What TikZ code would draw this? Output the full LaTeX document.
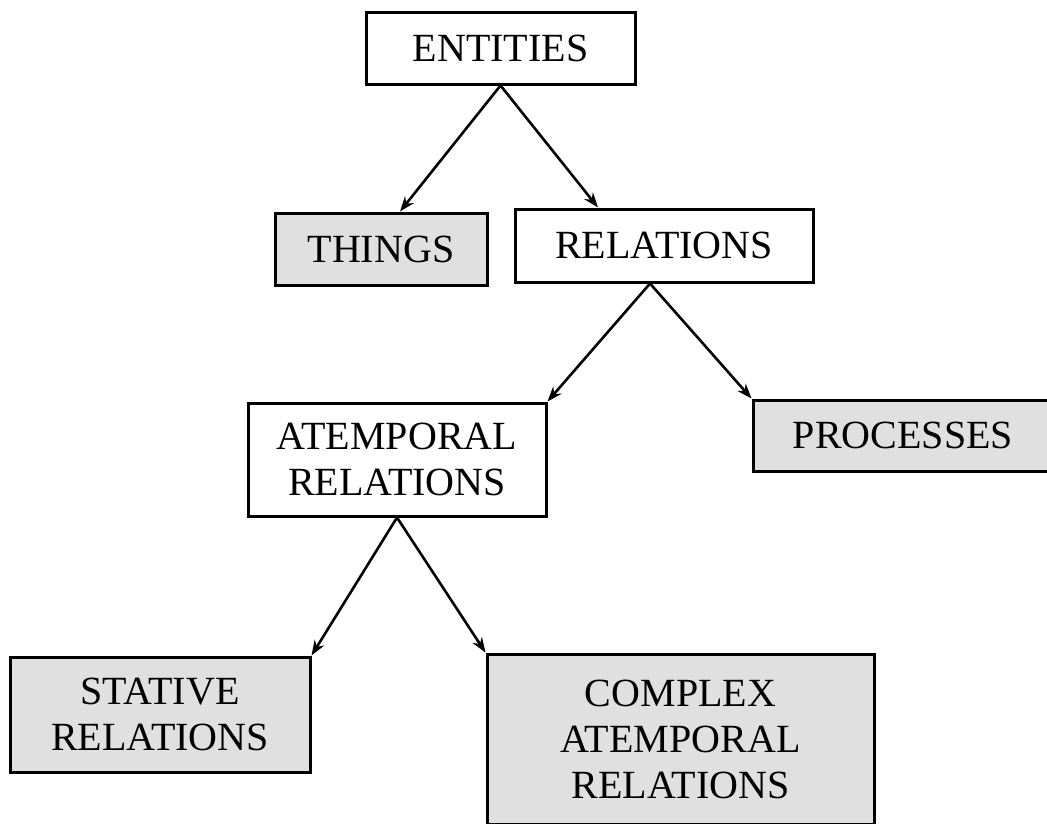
\documentclass[tikz,border=0pt]{standalone}
\usepackage{fontspec}
\setmainfont{Liberation Serif}
\usetikzlibrary{arrows.meta}
\definecolor{boxgray}{RGB}{224,224,224}
\begin{document}
\begin{tikzpicture}[x=1pt,y=-1pt,
  box/.style={draw,line width=3pt,inner sep=0pt,align=center,font=\fontsize{40}{46}\selectfont},
  wbox/.style={box,fill=white},
  gbox/.style={box,fill=boxgray},
  arr/.style={line width=2.6pt,-{Stealth[length=15pt,width=11pt]}}]
\clip (0,0) rectangle (1047,823);
\fill[white] (0,0) rectangle (1047,823);
\node[wbox,minimum width=269pt,minimum height=72pt] (ent) at (500.5,48) {ENTITIES};
\node[gbox,minimum width=212pt,minimum height=72pt] (things) at (381,249) {THINGS};
\node[wbox,minimum width=298pt,minimum height=73pt] (rel) at (664,245.5) {RELATIONS};
\node[wbox,minimum width=298pt,minimum height=113pt] (atemp) at (397,459.5) {ATEMPORAL\\RELATIONS};
\node[gbox,minimum width=300pt,minimum height=71pt] (proc) at (903,435.5) {PROCESSES};
\node[gbox,minimum width=300pt,minimum height=115pt] (stat) at (160,714.5) {STATIVE\\RELATIONS};
\node[gbox,minimum width=387pt,minimum height=170pt] (comp) at (680.5,739) {COMPLEX\\ATEMPORAL\\RELATIONS};
\draw[arr] (ent.south) -- ([xshift=19pt]things.north);
\draw[arr] (ent.south) -- ([xshift=-66pt]rel.north);
\draw[arr] ([xshift=-14pt]rel.south) -- (atemp.north east);
\draw[arr] ([xshift=-14pt]rel.south) -- (proc.north west);
\draw[arr] (atemp.south) -- (stat.north east);
\draw[arr] (atemp.south) -- (comp.north west);
\end{tikzpicture}
\end{document}
